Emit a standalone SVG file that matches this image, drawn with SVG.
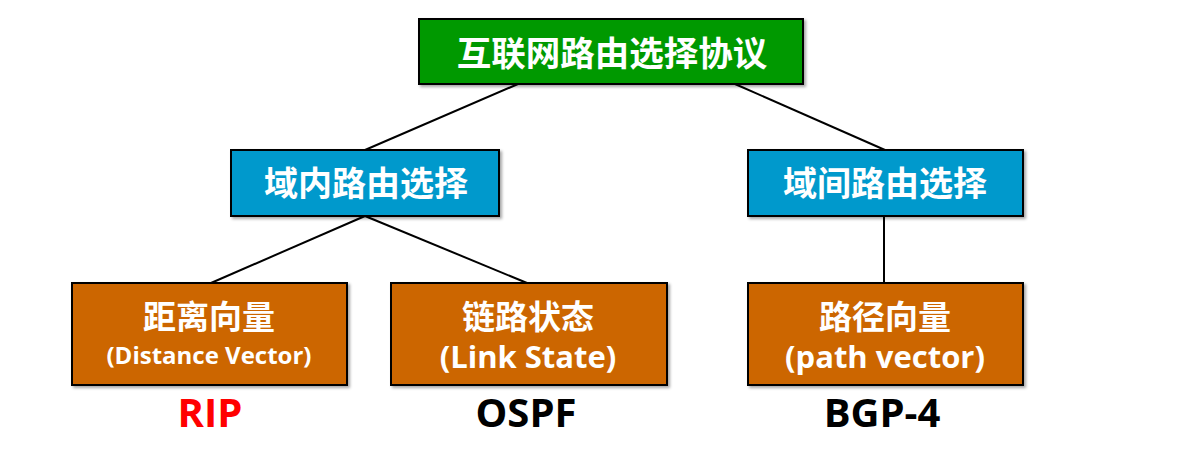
<svg xmlns="http://www.w3.org/2000/svg" width="1200" height="476" viewBox="0 0 1200 476">
<defs>
<filter id="sh" x="-5%" y="-5%" width="110%" height="120%">
<feDropShadow dx="2" dy="2" stdDeviation="1.5" flood-color="#000" flood-opacity="0.35"/>
</filter>
</defs>
<style>
.box{stroke:#000;stroke-width:2;filter:url(#sh)}
.g{fill:#009900}.b{fill:#0099CC}.o{fill:#CC6600}
.t{font-family:"Open Sans","Noto Sans CJK SC",sans-serif;font-weight:bold;fill:#fff;text-anchor:middle}
.lab{font-family:"Open Sans","Noto Sans CJK SC",sans-serif;font-weight:bold;text-anchor:middle;font-size:40px}
.c{stroke:#000;stroke-width:2;fill:none}
</style>
<rect width="1200" height="476" fill="#fff"/>
<g id="connectors">
<line class="c" x1="518" y1="84" x2="365" y2="150"/>
<line class="c" x1="735" y1="84" x2="885" y2="150"/>
<line class="c" x1="365" y1="216" x2="211" y2="283"/>
<line class="c" x1="365" y1="216" x2="527" y2="283"/>
<line class="c" x1="884" y1="216" x2="884" y2="283"/>
</g>
<g id="root">
<rect class="box g" x="419" y="19" width="384" height="65"/>
<text class="t" x="612" y="66" font-size="34.5">互联网路由选择协议</text>
</g>
<g id="intra">
<rect class="box b" x="231" y="150" width="268" height="66"/>
<text class="t" x="366" y="196" font-size="34">域内路由选择</text>
</g>
<g id="inter">
<rect class="box b" x="748" y="150" width="275" height="66"/>
<text class="t" x="885" y="196" font-size="34">域间路由选择</text>
</g>
<g id="dv">
<rect class="box o" x="72" y="283" width="275" height="102"/>
<text class="t" x="209" y="329" font-size="33">距离向量</text>
<text class="t" x="209" y="364" font-size="24">(Distance Vector)</text>
</g>
<g id="ls">
<rect class="box o" x="391" y="283" width="276" height="102"/>
<text class="t" x="528" y="329" font-size="33">链路状态</text>
<text class="t" x="528" y="368" font-size="31">(Link State)</text>
</g>
<g id="pv">
<rect class="box o" x="748" y="283" width="275" height="102"/>
<text class="t" x="885" y="329" font-size="33">路径向量</text>
<text class="t" x="885" y="368" font-size="31">(path vector)</text>
</g>
<g id="labels">
<text class="lab" x="210" y="427" fill="#FF0000">RIP</text>
<text class="lab" x="526" y="427" fill="#000">OSPF</text>
<text class="lab" x="882" y="427" fill="#000">BGP-4</text>
</g>
</svg>
